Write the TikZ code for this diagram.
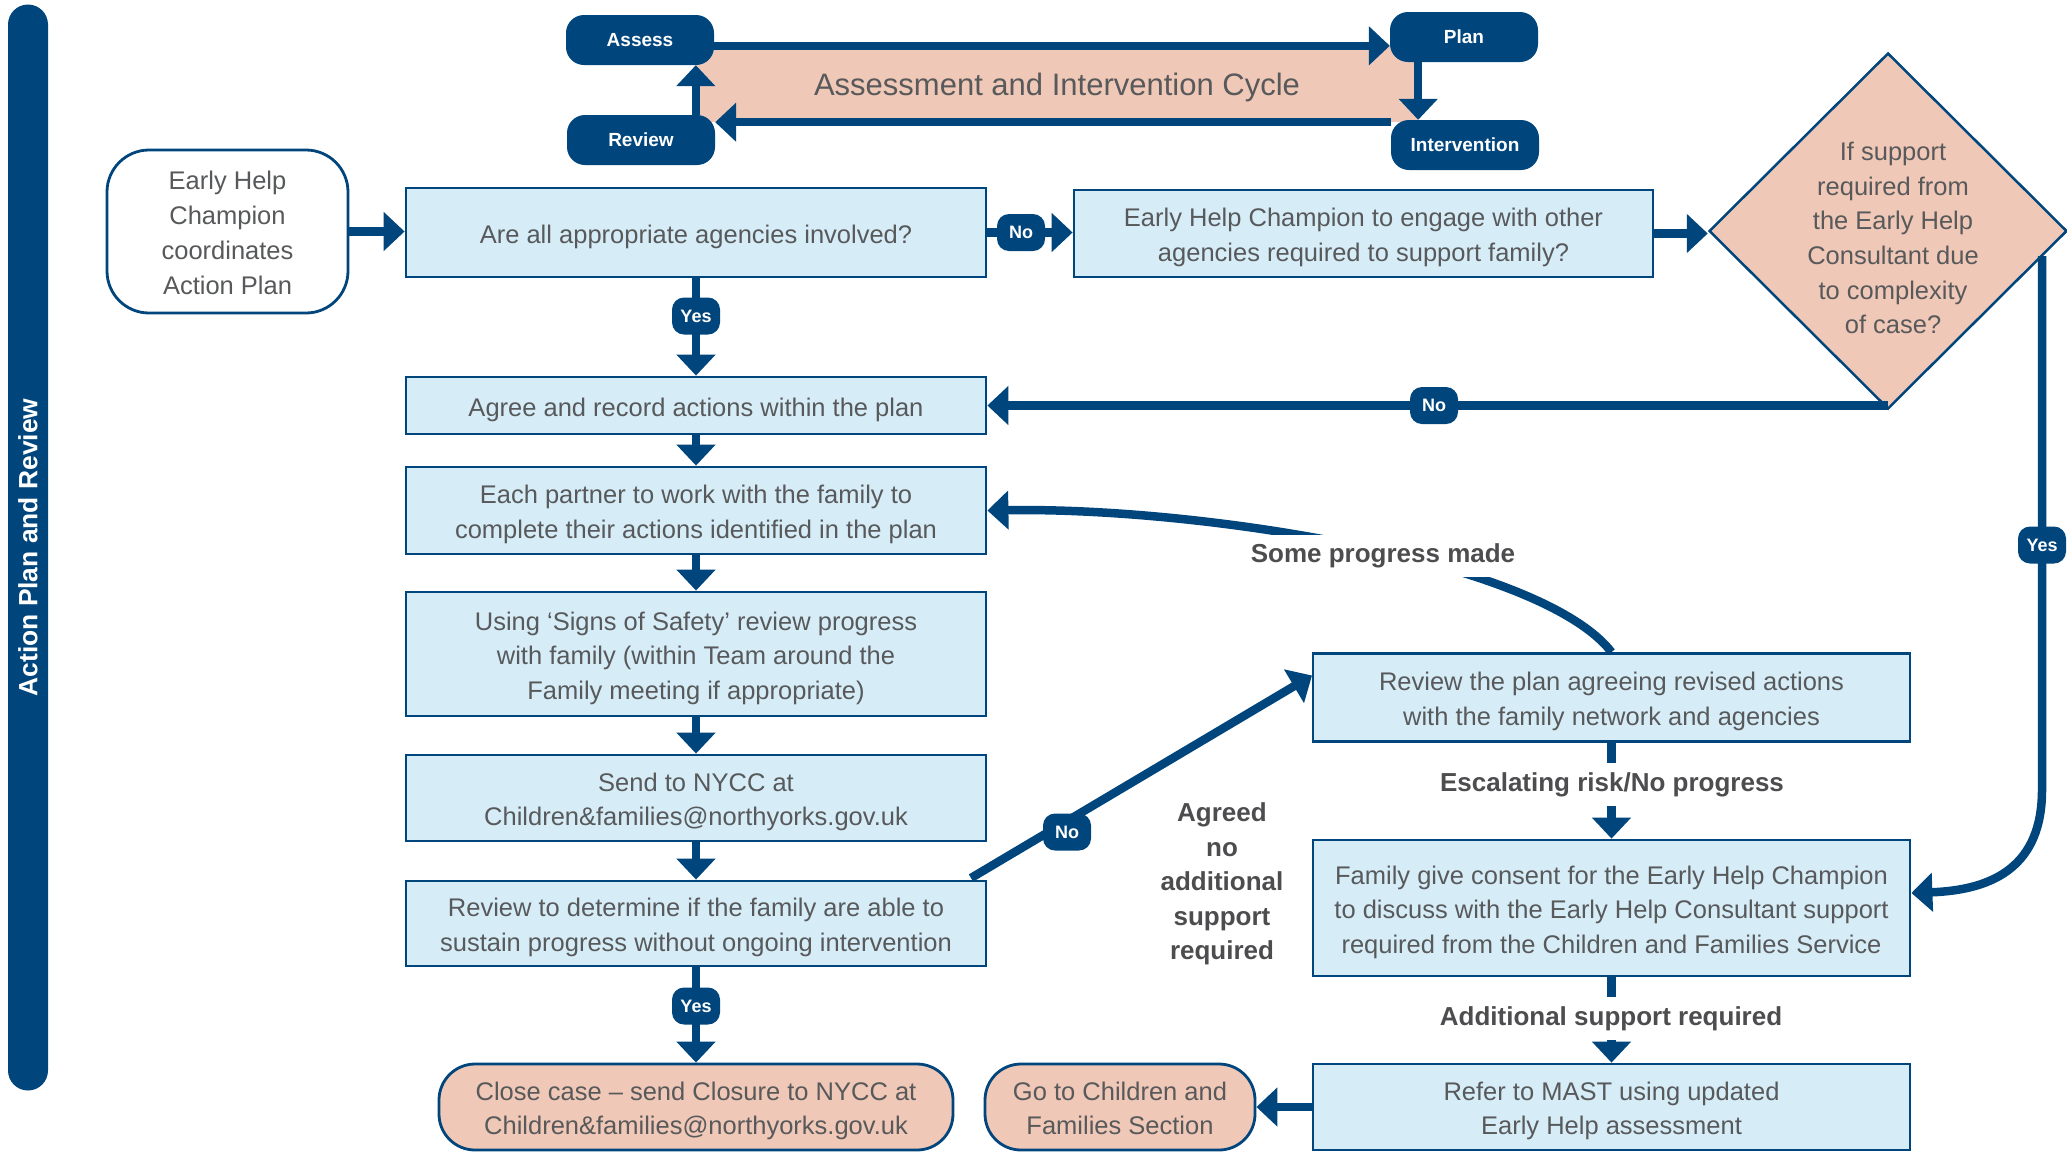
\documentclass[tikz,border=0pt]{standalone}
\usepackage{fontspec}
\setmainfont{Liberation Sans}
\usetikzlibrary{arrows.meta,shapes.geometric,calc}
\definecolor{navy}{HTML}{00457C}
\definecolor{boxblue}{HTML}{D6EDF8}
\definecolor{salmon}{HTML}{F0C8B7}
\definecolor{txtgrey}{HTML}{58595B}
\definecolor{lblgrey}{HTML}{4D4D4F}
\newcommand\myfs[2]{\fontsize{#1}{#2}\selectfont}
\newcommand\topst{\rule{0pt}{28pt}}
\newcommand\botst{\rule[-7pt]{0pt}{7pt}}
\begin{document}
\begin{tikzpicture}[x=1pt,y=-1pt,
 box/.style={draw=navy, line width=2.8pt, fill=boxblue, text=txtgrey, font=\myfs{25.5}{34.5}, align=center, inner sep=0pt, minimum width=580pt},
 rbox/.style={box, fill=salmon, rounded corners=36pt},
 cyc/.style={fill=navy, rounded corners=18pt, text=white, font=\myfs{19}{22}\bfseries, minimum width=148pt, minimum height=50pt, inner sep=0pt},
 pill/.style={fill=navy, rounded corners=12pt, text=white, font=\myfs{18}{20}\bfseries, minimum width=48pt, minimum height=37pt, inner sep=0pt},
 arr/.style={draw=navy, line width=8.5pt, -{Triangle[length=21pt,width=38pt]}},
 lbl/.style={fill=white, text=lblgrey, font=\myfs{26}{34.5}\bfseries, align=center, inner sep=9pt},
]
\useasboundingbox (0,0) rectangle (2067,1152);

% side bar
\node[rotate=90, fill=navy, rounded corners=20pt, minimum width=1086pt, minimum height=40pt, inner sep=0pt, text=white, font=\myfs{26.4}{30}\bfseries] (bar) at (28,547.5) {Action Plan and Review};

% cycle
\node[fill=salmon, minimum width=722pt, minimum height=76pt, inner sep=0pt, text=txtgrey, font=\myfs{31}{36}, text height=28pt, text depth=5pt] (cycbg) at (1057,84) {Assessment and Intervention Cycle};
\node[cyc] (assess) at (640,40) {Assess};
\node[cyc] (plan) at (1464,37) {Plan};
\node[cyc] (review) at (641,140) {Review};
\node[cyc] (interv) at (1465,145) {Intervention};
\draw[arr] (assess.east |- cycbg.north) -- (plan.west |- cycbg.north);
\draw[arr] (plan.south -| cycbg.east) -- (interv.north -| cycbg.east);
\draw[arr] (interv.west |- cycbg.south) -- (review.east |- cycbg.south);
\draw[arr] (review.north -| cycbg.west) -- (assess.south -| cycbg.west);

% left flow
\node[draw=navy, line width=2.8pt, fill=white, rounded corners=42pt, minimum width=241pt, minimum height=163pt, inner sep=0pt, text=txtgrey, font=\myfs{25.5}{35}, align=center] (ehc) at (227.5,231.5) {\topst Early Help\\Champion\\coordinates\\Action Plan\botst};
\node[box, minimum height=89pt] (q1) at (696,232.5) {\topst Are all appropriate agencies involved?\botst};
\node[box, minimum height=57pt] (agree) at (696,405.5) {\topst Agree and record actions within the plan\botst};
\node[box, minimum height=87pt] (partner) at (696,510.5) {\topst Each partner to work with the family to\\complete their actions identified in the plan\botst};
\node[box, minimum height=124pt] (signs) at (696,654) {\topst Using ‘Signs of Safety’ review progress\\with family (within Team around the\\Family meeting if appropriate)\botst};
\node[box, minimum height=86pt] (send) at (696,798) {\topst Send to NYCC at\\Children\&families@northyorks.gov.uk\botst};
\node[box, minimum height=85pt] (sustain) at (696,923.5) {\topst Review to determine if the family are able to\\sustain progress without ongoing intervention\botst};
\node[rbox, minimum width=514pt, minimum height=86pt] (close) at (696,1107) {\topst Close case – send Closure to NYCC at\\Children\&families@northyorks.gov.uk\botst};

% right side
\node[box, minimum width=579pt, minimum height=87pt] (engage) at (1363.5,233.5) {\topst Early Help Champion to engage with other\\agencies required to support family?\botst};
\node[draw=navy, line width=2.5pt, fill=salmon, diamond, minimum width=358pt, minimum height=356pt, inner sep=0pt] (dia) at (1888,231) {};
\node[text=txtgrey, font=\myfs{25.5}{34.7}, align=center] (diatext) at ($(dia.center)+(5,7)$) {If support\\required from\\the Early Help\\Consultant due\\to complexity\\of case?};
\node[box, minimum width=597pt, minimum height=88pt] (revplan) at (1611.5,697.5) {\topst Review the plan agreeing revised actions\\with the family network and agencies\botst};
\node[box, minimum width=597pt, minimum height=136pt] (consent) at (1611.5,908) {\topst Family give consent for the Early Help Champion\\to discuss with the Early Help Consultant support\\required from the Children and Families Service\botst};
\node[box, minimum width=597pt, minimum height=86pt] (refer) at (1611.5,1107) {\topst Refer to MAST using updated\\Early Help assessment\botst};
\node[rbox, minimum width=270pt, minimum height=86pt] (goto) at (1120,1107) {\topst Go to Children and\\Families Section\botst};

% connectors
\draw[arr] (ehc.east) -- (ehc.east -| q1.west);
\draw[arr] (q1.east) -- (q1.east -| engage.west);
\draw[arr] (engage.east) -- (engage.east -| dia.west);
\draw[arr] (q1.south) -- (agree.north);
\draw[arr] (agree.south) -- (partner.north);
\draw[arr] (partner.south) -- (signs.north);
\draw[arr] (signs.south) -- (send.north);
\draw[arr] (send.south) -- (sustain.north);
\draw[arr] (sustain.south) -- (close.north);
\draw[arr] (dia.south |- agree.east) -- (agree.east);
\coordinate (ystart) at (2042,256);
\coordinate (ybend) at (2042,790);
\coordinate (yend) at ($(consent.east)+(0,-15)$);
\draw[arr] (ystart) -- (ybend) .. controls (2042,865) and (1995,890) .. (yend);
\coordinate (dstart) at (971,878);
\coordinate (dend) at (1312,675.5);
\draw[arr] (dstart) -- (dend);
\draw[arr] (revplan.north) .. controls (1540,560) and (1200,507) .. (partner.east);
\draw[arr] (revplan.south) -- (consent.north);
\draw[arr] (consent.south) -- (refer.north);
\draw[arr] (refer.west) -- (goto.east);

% labels
\node[lbl] (lsome) at (1383,556) {Some progress made};
\node[lbl] (lesc) at (1612,784.5) {Escalating risk/No progress};
\node[lbl] (ladd) at (1611,1018.5) {Additional support required};
\node[text=lblgrey, font=\myfs{26}{34.5}\bfseries, align=center] (lagreed) at (1222,884) {Agreed\\no\\additional\\support\\required};

% pills
\node[pill] (p1) at (696,316) {Yes};
\node[pill] (p2) at (1021,232.5) {No};
\node[pill] (p3) at (1434,405.5) {No};
\node[pill] (p4) at (2042,545) {Yes};
\node[pill] (p5) at (1067,832) {No};
\node[pill] (p6) at (696,1006) {Yes};
\end{tikzpicture}
\end{document}
